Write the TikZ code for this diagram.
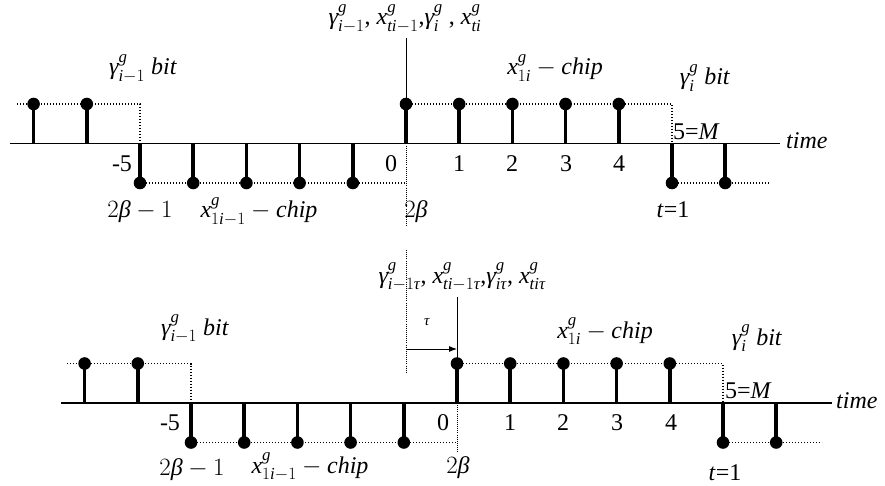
\documentclass[tikz,border=0pt]{standalone}
\usepackage{amsmath}
\usepackage{fontspec}
\setmainfont{Liberation Serif}
\usetikzlibrary{arrows.meta}

\newcommand{\mi}[1]{\textit{#1}}

\begin{document}
\begin{tikzpicture}[
  x=1pt, y=-1pt,
  axis line/.style={line width=1.2pt},
  sample stem/.style={line width=3.6pt},
  level line/.style={line width=1.3pt, dash pattern=on 1.3pt off 1.7pt},
  marker line/.style={line width=0.9pt},
  marker dots/.style={line width=0.9pt, dash pattern=on 0.9pt off 1.2pt},
  shift arrow/.style={-{Latex[length=8pt,width=6pt]}, line width=0.9pt},
  lbl/.style={font=\fontsize{24}{27}\selectfont, anchor=base, inner sep=0pt},
  small lbl/.style={font=\fontsize{15}{17}\selectfont, anchor=base, inner sep=0pt}
]
\useasboundingbox (0,0) rectangle (885,486);

% Chip spacing and pulse height, shared by both time lines.
\def\chip{53.2}
\def\amp{39.5}

% -----------------------------------------------------------------------------
% Upper time line: bit boundary at 0.
% -----------------------------------------------------------------------------
\begin{scope}[shift={(406,143.5)}]
  \draw[axis line] (-396,0) -- (374,0);
  \draw[level line] (-389,-\amp) -- (-5*\chip,-\amp) -- (-5*\chip,0);
  \draw[level line] (-5*\chip,\amp) -- (0,\amp);
  \draw[level line] (0,-\amp) -- (5*\chip,-\amp) -- (5*\chip,0);
  \draw[level line] (5*\chip,\amp) -- (364,\amp);

  \draw[sample stem] (-7*\chip,0) -- (-7*\chip,-\amp); \fill (-7*\chip,-\amp) circle[radius=6.3];
  \draw[sample stem] (-6*\chip,0) -- (-6*\chip,-\amp); \fill (-6*\chip,-\amp) circle[radius=6.3];
  \draw[sample stem] (-5*\chip,0) -- (-5*\chip,\amp); \fill (-5*\chip,\amp) circle[radius=6.3];
  \draw[sample stem] (-4*\chip,0) -- (-4*\chip,\amp); \fill (-4*\chip,\amp) circle[radius=6.3];
  \draw[sample stem] (-3*\chip,0) -- (-3*\chip,\amp); \fill (-3*\chip,\amp) circle[radius=6.3];
  \draw[sample stem] (-2*\chip,0) -- (-2*\chip,\amp); \fill (-2*\chip,\amp) circle[radius=6.3];
  \draw[sample stem] (-1*\chip,0) -- (-1*\chip,\amp); \fill (-1*\chip,\amp) circle[radius=6.3];
  \draw[sample stem] (0,0) -- (0,-\amp); \fill (0,-\amp) circle[radius=6.3];
  \draw[sample stem] (1*\chip,0) -- (1*\chip,-\amp); \fill (1*\chip,-\amp) circle[radius=6.3];
  \draw[sample stem] (2*\chip,0) -- (2*\chip,-\amp); \fill (2*\chip,-\amp) circle[radius=6.3];
  \draw[sample stem] (3*\chip,0) -- (3*\chip,-\amp); \fill (3*\chip,-\amp) circle[radius=6.3];
  \draw[sample stem] (4*\chip,0) -- (4*\chip,-\amp); \fill (4*\chip,-\amp) circle[radius=6.3];
  \draw[sample stem] (5*\chip,0) -- (5*\chip,\amp); \fill (5*\chip,\amp) circle[radius=6.3];
  \draw[sample stem] (6*\chip,0) -- (6*\chip,\amp); \fill (6*\chip,\amp) circle[radius=6.3];

  \coordinate (topMarkTop) at (0,-105.5);
  \coordinate (topMarkBase) at (0,0);
  \coordinate (topMarkEnd) at (0,82);
  \draw[marker line] (topMarkTop) -- (topMarkBase);
  \draw[marker dots] (topMarkBase) -- (topMarkEnd);
\end{scope}

\node[lbl] (topTitle) at (405,25) {$\mi{γ}^{\mi{g}}_{\mi{i}-1}$, $\mi{x}^{\mi{g}}_{\mi{ti}-1}$,$\mi{γ}^{\mi{g}}_{\mi{i}}$ , $\mi{x}^{\mi{g}}_{\mi{ti}}$};
\node[lbl] (topPrevBit) at (143,75) {$\mi{γ}^{\mi{g}}_{\mi{i}-1}$\ \mi{bit}};
\node[lbl] (topCurChip) at (555,75) {$\mi{x}^{\mi{g}}_{1\mi{i}}-\mi{chip}$};
\node[lbl] (topCurBit) at (705,85) {$\mi{γ}^{\mi{g}}_{\mi{i}}$\ \mi{bit}};
\node[lbl, anchor=base west] (topM) at (673,140) {5=\mi{M}};
\node[lbl, anchor=base west] (topTime) at (786,149) {\mi{time}};
\node[lbl] (topMinusFive) at (122,172) {-5};
\node[lbl] (topZero) at (391,172) {0};
\node[lbl] (topOne) at (459,172) {1};
\node[lbl] (topTwo) at (512,172) {2};
\node[lbl] (topThree) at (566,172) {3};
\node[lbl] (topFour) at (619,172) {4};
\node[lbl] (topTwoBetaMinus) at (140,218) {$2\mi{β}-1$};
\node[lbl] (topPrevChip) at (259,218) {$\mi{x}^{\mi{g}}_{1\mi{i}-1}-\mi{chip}$};
\node[lbl] (topTwoBeta) at (416,218) {$2\mi{β}$};
\node[lbl] (topTOne) at (673,218) {\mi{t}=1};

% -----------------------------------------------------------------------------
% Lower time line: same sequence delayed by tau.
% -----------------------------------------------------------------------------
\begin{scope}[shift={(457,403)}]
  \draw[axis line] (-396,0) -- (375,0);
  \draw[level line] (-390,-\amp) -- (-5*\chip,-\amp) -- (-5*\chip,0);
  \draw[level line] (-5*\chip,\amp) -- (0,\amp);
  \draw[level line] (0,-\amp) -- (5*\chip,-\amp) -- (5*\chip,0);
  \draw[level line] (5*\chip,\amp) -- (365,\amp);

  \draw[sample stem] (-7*\chip,0) -- (-7*\chip,-\amp); \fill (-7*\chip,-\amp) circle[radius=6.3];
  \draw[sample stem] (-6*\chip,0) -- (-6*\chip,-\amp); \fill (-6*\chip,-\amp) circle[radius=6.3];
  \draw[sample stem] (-5*\chip,0) -- (-5*\chip,\amp); \fill (-5*\chip,\amp) circle[radius=6.3];
  \draw[sample stem] (-4*\chip,0) -- (-4*\chip,\amp); \fill (-4*\chip,\amp) circle[radius=6.3];
  \draw[sample stem] (-3*\chip,0) -- (-3*\chip,\amp); \fill (-3*\chip,\amp) circle[radius=6.3];
  \draw[sample stem] (-2*\chip,0) -- (-2*\chip,\amp); \fill (-2*\chip,\amp) circle[radius=6.3];
  \draw[sample stem] (-1*\chip,0) -- (-1*\chip,\amp); \fill (-1*\chip,\amp) circle[radius=6.3];
  \draw[sample stem] (0,0) -- (0,-\amp); \fill (0,-\amp) circle[radius=6.3];
  \draw[sample stem] (1*\chip,0) -- (1*\chip,-\amp); \fill (1*\chip,-\amp) circle[radius=6.3];
  \draw[sample stem] (2*\chip,0) -- (2*\chip,-\amp); \fill (2*\chip,-\amp) circle[radius=6.3];
  \draw[sample stem] (3*\chip,0) -- (3*\chip,-\amp); \fill (3*\chip,-\amp) circle[radius=6.3];
  \draw[sample stem] (4*\chip,0) -- (4*\chip,-\amp); \fill (4*\chip,-\amp) circle[radius=6.3];
  \draw[sample stem] (5*\chip,0) -- (5*\chip,\amp); \fill (5*\chip,\amp) circle[radius=6.3];
  \draw[sample stem] (6*\chip,0) -- (6*\chip,\amp); \fill (6*\chip,\amp) circle[radius=6.3];

  \coordinate (botMarkTop) at (0,-106);
  \coordinate (botMarkBase) at (0,0);
  \coordinate (botMarkEnd) at (0,49);
  \draw[marker line] (botMarkTop) -- (botMarkBase);
  \draw[marker dots] (botMarkBase) -- (botMarkEnd);

  % old bit boundary and the delay tau
  \coordinate (oldMarkTop) at (-51,-153);
  \coordinate (oldMarkEnd) at (-51,-31);
  \coordinate (tauStart) at (-51,-54);
  \coordinate (tauEnd) at (0,-54);
  \draw[marker dots] (oldMarkTop) -- (oldMarkEnd);
  \draw[shift arrow] (tauStart) -- (tauEnd);
\end{scope}

\node[lbl] (botTitle) at (462,283) {$\mi{γ}^{\mi{g}}_{\mi{i}-1\mi{τ}}$, $\mi{x}^{\mi{g}}_{\mi{ti}-1\mi{τ}}$,$\mi{γ}^{\mi{g}}_{\mi{iτ}}$, $\mi{x}^{\mi{g}}_{\mi{tiτ}}$};
\node[small lbl] (tauLabel) at (427,325) {\mi{τ}};
\node[lbl] (botPrevBit) at (195,335) {$\mi{γ}^{\mi{g}}_{\mi{i}-1}$\ \mi{bit}};
\node[lbl] (botCurChip) at (605,338) {$\mi{x}^{\mi{g}}_{1\mi{i}}-\mi{chip}$};
\node[lbl] (botCurBit) at (757,345) {$\mi{γ}^{\mi{g}}_{\mi{i}}$\ \mi{bit}};
\node[lbl, anchor=base west] (botM) at (725,398) {5=\mi{M}};
\node[lbl, anchor=base west] (botTime) at (836,408) {\mi{time}};
\node[lbl] (botMinusFive) at (170,430) {-5};
\node[lbl] (botZero) at (443,430) {0};
\node[lbl] (botOne) at (510,430) {1};
\node[lbl] (botTwo) at (563,430) {2};
\node[lbl] (botThree) at (617,430) {3};
\node[lbl] (botFour) at (671,430) {4};
\node[lbl] (botTwoBetaMinus) at (192,475) {$2\mi{β}-1$};
\node[lbl] (botPrevChip) at (310,473) {$\mi{x}^{\mi{g}}_{1\mi{i}-1}-\mi{chip}$};
\node[lbl] (botTwoBeta) at (458,473) {$2\mi{β}$};
\node[lbl] (botTOne) at (725,480) {\mi{t}=1};

\end{tikzpicture}
\end{document}
